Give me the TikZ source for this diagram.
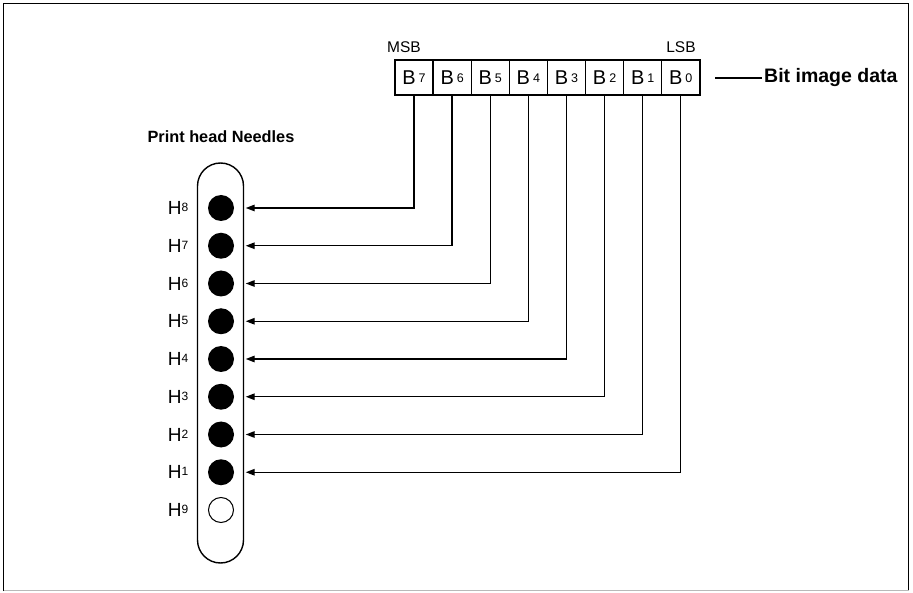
\documentclass[tikz,border=0pt]{standalone}
\usepackage{fontspec}
\setmainfont{Liberation Sans}
\usetikzlibrary{arrows.meta}
\newcommand{\Bsub}[1]{\fontsize{20}{20}\selectfont B\hspace{3pt}\raisebox{2pt}{\fontsize{12.5}{12.5}\selectfont #1}}
\newcommand{\Hsup}[1]{\fontsize{19}{19}\selectfont H\raisebox{3pt}{\fontsize{12}{12}\selectfont #1}}
\begin{document}
\begin{tikzpicture}[x=1pt,y=-1pt,
  lw/.style={line width=1.4pt},
  bitbox/.style={draw,lw,minimum width=38.1pt,minimum height=35pt,inner sep=0pt,anchor=center},
  needle/.style={circle,fill=black,minimum size=26pt,inner sep=0pt},
  emptyneedle/.style={circle,draw,line width=1pt,fill=white,minimum size=25pt,inner sep=0pt},
  hlabel/.style={inner sep=0pt,anchor=center},
  arr/.style={lw,-{Triangle[length=9pt,width=6.5pt]}},
  lbl/.style={inner sep=0pt,anchor=center}]
\useasboundingbox (0,0) rectangle (913,593);
% frame
\draw[line width=1.6pt] (3.5,591) -- (3.5,3.5) -- (908.5,3.5) -- (908.5,591);
\draw[line width=1.4pt,gray!55] (3.5,590.5) -- (908.5,590.5);
% bit boxes
\foreach \d [count=\i from 0] in {7,6,5,4,3,2,1,0}{
  \node[bitbox] (b\d) at ({414.05+38.1*\i},77.5) {\Bsub{\d}};
}
\node[lbl,font=\fontsize{15.5}{15.5}\selectfont] (msb) at (404,47) {MSB};
\node[lbl,font=\fontsize{15.5}{15.5}\selectfont] (lsb) at (681,47) {LSB};
\node[lbl,anchor=west,font=\bfseries\fontsize{19.5}{19.5}\selectfont] (bid) at (764,78) {Bit image data};
\coordinate (lead) at (715,78);
\draw[lw] (lead) -- ([xshift=-2pt]bid.west);
% print head
\node[lbl,font=\bfseries\fontsize{16.3}{16.3}\selectfont] (phn) at (221,137) {Print head Needles};
\node[draw,lw,minimum width=46pt,minimum height=400pt,rounded corners=23pt,inner sep=0pt] (pill) at (220.5,363) {};
\foreach \h [count=\k from 0] in {8,7,6,5,4,3,2,1}{
  \node[needle] (n\h) at (221,{208+37.75*\k}) {};
  \node[hlabel] (h\h) at (178,{208+37.75*\k}) {\Hsup{\h}};
}
\node[emptyneedle] (n9) at (221,510) {};
\node[hlabel] (h9) at (178,510) {\Hsup{9}};
% connectors
\foreach \b/\h in {7/8,6/7,5/6,4/5,3/4,2/3,1/2,0/1}{
  \draw[arr] (b\b.south) |- ([xshift=1.5pt]pill.east |- n\h);
}
\end{tikzpicture}
\end{document}
